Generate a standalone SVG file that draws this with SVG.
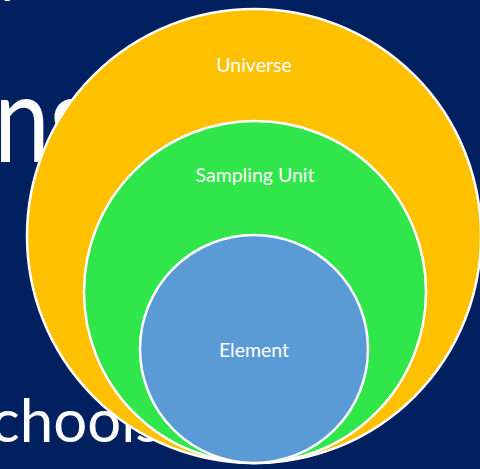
<svg xmlns="http://www.w3.org/2000/svg" width="480" height="469" viewBox="0 0 480 469">
  <style>
    .bgtext { fill: #ffffff; font-family: Lato, "Open Sans", "Liberation Sans", sans-serif; }
    .frag { fill: #ffffff; font-family: "Liberation Sans", sans-serif; font-size: 56px; }
    .ring { stroke: #ffffff; stroke-width: 2.5; }
    .label { fill: #ffffff; font-family: Lato, "Open Sans", "Liberation Sans", sans-serif; font-size: 19.5px; text-anchor: middle; }
  </style>
  <!-- slide background -->
  <rect width="480" height="469" fill="#002060"/>
  <!-- slide text behind the diagram -->
  <text class="frag" x="1" y="-11">p</text>
  <text class="frag" x="284" y="-13.5">(</text>
  <text class="frag" x="419" y="-13.5">)</text>
  <text class="bgtext" transform="translate(-6 162) scale(0.82 1)" font-size="122">ns</text>
  <text class="bgtext" x="-9" y="442" font-size="60">chools</text>

  <g id="universe">
    <circle class="ring" cx="254" cy="236" r="227" fill="#FFC000"/>
    <text class="label" x="254" y="72">Universe</text>
  </g>
  <g id="sampling-unit">
    <circle class="ring" cx="255" cy="292" r="171" fill="#30E64A"/>
    <text class="label" x="255" y="182">Sampling Unit</text>
  </g>
  <g id="element">
    <circle class="ring" cx="254" cy="349" r="114" fill="#5B9BD5"/>
    <text class="label" x="254" y="357">Element</text>
  </g>
  <g id="connectors"/>
</svg>
